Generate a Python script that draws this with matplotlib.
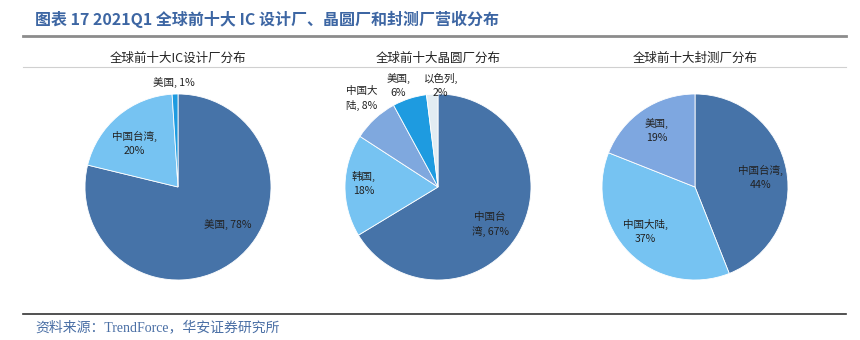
import matplotlib
matplotlib.use("Agg")
import matplotlib.pyplot as plt
from matplotlib.lines import Line2D

plt.rcParams['font.family'] = ['Noto Sans CJK SC', 'DejaVu Sans']

# 数据
titulos = ['全球前十大IC设计厂分布', '全球前十大晶圆厂分布', '全球前十大封测厂分布']

ic_labels = ['美国, 78%', '中国台湾,\n20%', '美国, 1%']
ic_values = [78, 20, 1]

fab_labels = ['中国台\n湾, 67%', '韩国,\n18%', '中国大\n陆, 8%', '美国,\n6%', '以色列,\n2%']
fab_values = [67, 18, 8, 6, 2]

osat_labels = ['中国台湾,\n44%', '中国大陆,\n37%', '美国,\n19%']
osat_values = [44, 37, 19]

# 颜色 / 标签位置 (半径单位)
ic_colors = ['#4673a8', '#76c3f2', '#1e9be0']
fab_colors = ['#4673a8', '#76c3f2', '#7fa8de', '#1e9be0', '#e2ecf2']
osat_colors = ['#4673a8', '#76c3f2', '#7ea7e0']

ic_pos = [(0.53, -0.40), (-0.47, 0.47), (-0.04, 1.12)]
fab_pos = [(0.56, -0.40), (-0.80, 0.04), (-0.82, 0.95), (-0.43, 1.09), (0.03, 1.09)]
osat_pos = [(0.70, 0.10), (-0.53, -0.48), (-0.41, 0.61)]

W, H = 860, 340
fig = plt.figure(figsize=(8.6, 3.4), dpi=100)

centros = [178, 438, 695]
cy = 187
R = 93
lim = 1.3
lado = 2 * R * lim

paineis = [
    (ic_values, ic_labels, ic_colors, ic_pos),
    (fab_values, fab_labels, fab_colors, fab_pos),
    (osat_values, osat_labels, osat_colors, osat_pos),
]

for cx, titulo, (vals, labs, cols, pos) in zip(centros, titulos, paineis):
    ax = fig.add_axes([(cx - lado / 2) / W, (H - cy - lado / 2) / H, lado / W, lado / H])
    ax.pie(vals, colors=cols, startangle=90, counterclock=False, radius=1,
           wedgeprops=dict(edgecolor='white', linewidth=0.6))
    for lab, (px, py) in zip(labs, pos):
        ax.text(px, py, lab, ha='center', va='center', fontsize=7.6,
                color='#222222', linespacing=1.45)
    ax.set_xlim(-lim, lim)
    ax.set_ylim(-lim, lim)
    ax.set_aspect('equal')
    ax.axis('off')
    fig.text(cx / W, 1 - 58 / H, titulo, ha='center', va='center',
             fontsize=9, color='#222222')

# 标题
fig.text(35 / W, 1 - 19 / H, '图表 17 2021Q1 全球前十大 IC 设计厂、晶圆厂和封测厂营收分布',
         ha='left', va='center', fontsize=11.5, fontweight='bold', color='#3d66a3')

# 线条
fig.add_artist(Line2D([23 / W, 846 / W], [1 - 36 / H, 1 - 36 / H],
                      color='#8c8c8c', linewidth=2, transform=fig.transFigure))
fig.add_artist(Line2D([23 / W, 846 / W], [1 - 67 / H, 1 - 67 / H],
                      color='#d0d0d0', linewidth=0.8, transform=fig.transFigure))
fig.add_artist(Line2D([23 / W, 846 / W], [1 - 314 / H, 1 - 314 / H],
                      color='#333333', linewidth=1.2, transform=fig.transFigure))

# 来源
fig.text(35 / W, 1 - 327 / H, '资料来源：TrendForce，华安证券研究所',
         ha='left', va='center', fontsize=10, color='#4a6fa5',
         family=['Liberation Serif', 'Noto Sans CJK SC'])

fig.savefig('out.png', dpi=100)
